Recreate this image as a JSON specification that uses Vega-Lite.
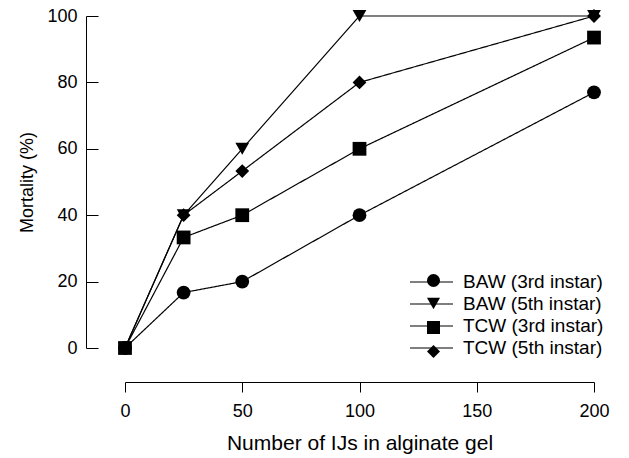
{
  "$schema": "https://vega.github.io/schema/vega-lite/v6.json",
  "width": 469,
  "height": 332,
  "autosize": "none",
  "padding": {"left": 125, "top": 16, "right": 35, "bottom": 110},
  "background": "white",
  "config": {
    "view": {"stroke": null},
    "font": "Liberation Sans",
    "axis": {"grid": false, "labelFlush": false, "domainColor": "black", "tickColor": "black", "labelColor": "black", "titleColor": "black", "labelFont": "Liberation Sans", "titleFont": "Liberation Sans", "labelFontSize": 18, "titleFontSize": 18, "titleFontWeight": "normal", "domainWidth": 1, "tickWidth": 1}
  },
  "data": {
    "values": [
      {"ijs": 0, "mortality": 0, "series": "BAW (3rd instar)"},
      {"ijs": 25, "mortality": 16.7, "series": "BAW (3rd instar)"},
      {"ijs": 50, "mortality": 20, "series": "BAW (3rd instar)"},
      {"ijs": 100, "mortality": 40, "series": "BAW (3rd instar)"},
      {"ijs": 200, "mortality": 77, "series": "BAW (3rd instar)"},
      {"ijs": 0, "mortality": 0, "series": "BAW (5th instar)"},
      {"ijs": 25, "mortality": 40, "series": "BAW (5th instar)"},
      {"ijs": 50, "mortality": 60, "series": "BAW (5th instar)"},
      {"ijs": 100, "mortality": 100, "series": "BAW (5th instar)"},
      {"ijs": 200, "mortality": 100, "series": "BAW (5th instar)"},
      {"ijs": 0, "mortality": 0, "series": "TCW (3rd instar)"},
      {"ijs": 25, "mortality": 33.3, "series": "TCW (3rd instar)"},
      {"ijs": 50, "mortality": 40, "series": "TCW (3rd instar)"},
      {"ijs": 100, "mortality": 60, "series": "TCW (3rd instar)"},
      {"ijs": 200, "mortality": 93.5, "series": "TCW (3rd instar)"},
      {"ijs": 0, "mortality": 0, "series": "TCW (5th instar)"},
      {"ijs": 25, "mortality": 40, "series": "TCW (5th instar)"},
      {"ijs": 50, "mortality": 53.3, "series": "TCW (5th instar)"},
      {"ijs": 100, "mortality": 80, "series": "TCW (5th instar)"},
      {"ijs": 200, "mortality": 100, "series": "TCW (5th instar)"}
    ]
  },
  "encoding": {
    "x": {"field": "ijs", "type": "quantitative", "scale": {"domain": [0, 200], "nice": false}, "axis": {"title": "Number of IJs in alginate gel", "titleFontSize": 21, "values": [0, 50, 100, 150, 200], "offset": 34, "tickSize": 10, "labelPadding": 10, "titlePadding": 12}},
    "y": {"field": "mortality", "type": "quantitative", "scale": {"domain": [0, 100], "nice": false}, "axis": {"title": "Mortality (%)", "values": [0, 20, 40, 60, 80, 100], "offset": 39, "tickSize": -12, "labelPadding": 21, "titlePadding": 10}}
  },
  "layer": [
    {
      "mark": {"type": "line", "color": "black", "strokeWidth": 1.2},
      "encoding": {
        "detail": {"field": "series"},
        "strokeDash": {"field": "series", "type": "nominal", "scale": {"range": [[1, 0], [1, 0], [1, 0], [1, 0]]},
          "legend": {"orient": "none", "legendX": 284, "legendY": 255, "title": null, "symbolType": "stroke", "symbolSize": 1849, "clipHeight": 22, "rowPadding": 0, "symbolStrokeColor": "black", "symbolStrokeWidth": 1.2, "labelFontSize": 19, "labelFont": "Liberation Sans", "labelColor": "black", "labelOffset": 9, "symbolDash": [1, 0]}}
      }
    },
    {
      "mark": {"type": "point", "filled": true, "color": "black", "opacity": 1, "size": 190},
      "encoding": {
        "shape": {"field": "series", "type": "nominal",
          "scale": {"domain": ["BAW (3rd instar)", "BAW (5th instar)", "TCW (3rd instar)", "TCW (5th instar)"], "range": ["circle", "triangle-down", "square", "diamond"]},
          "legend": {"orient": "none", "legendX": 299, "legendY": 255, "title": null, "symbolSize": 170, "rowPadding": 3, "symbolFillColor": "black", "symbolStrokeColor": "black", "symbolOpacity": 1, "labelFontSize": 19, "labelOpacity": 0, "labelOffset": 9}}
      }
    }
  ]
}
